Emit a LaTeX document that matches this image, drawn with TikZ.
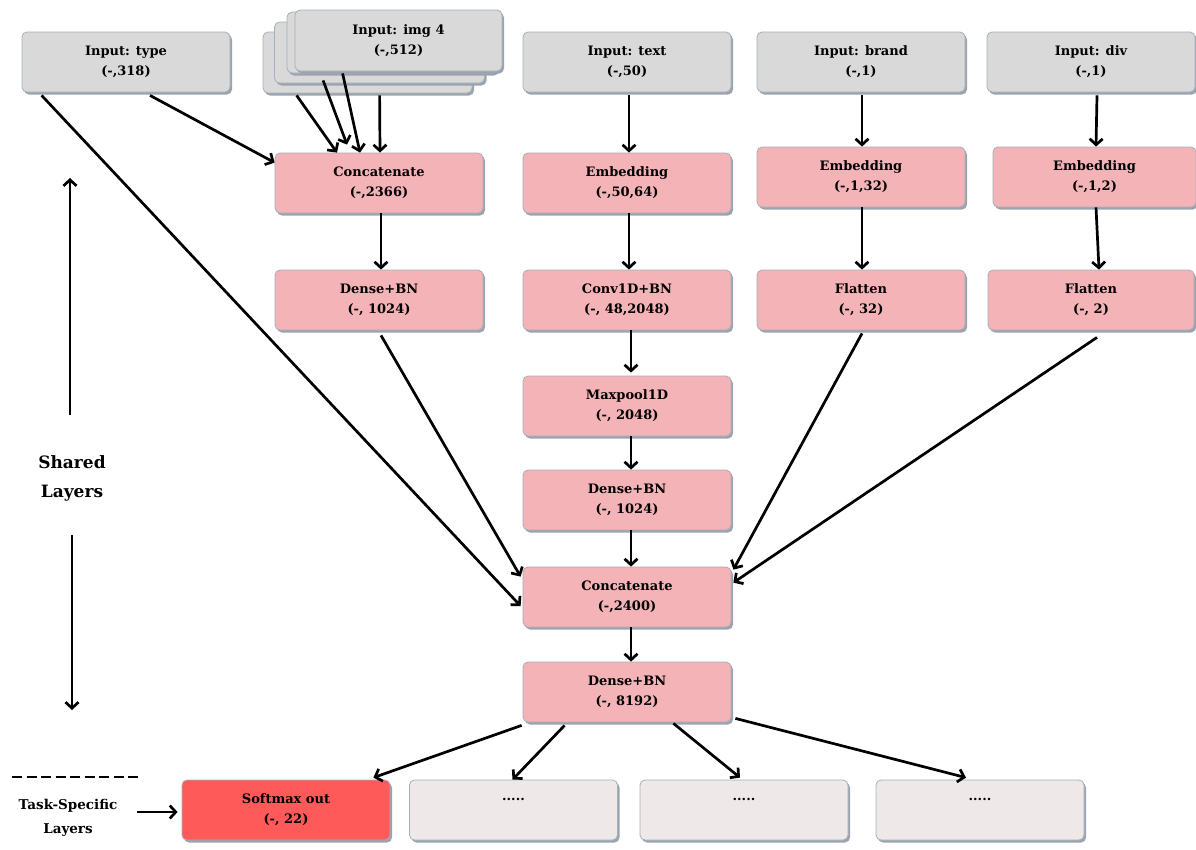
\documentclass[tikz,border=0pt]{standalone}
\usepackage{fontspec}
\setmainfont{DejaVu Serif}
\usetikzlibrary{arrows.meta,shadows}
\definecolor{ingray}{HTML}{D9D9D9}
\definecolor{boxedge}{HTML}{A7AFB8}
\definecolor{shadowc}{HTML}{9BA4AE}
\definecolor{pinkc}{HTML}{F4B3B6}
\definecolor{redc}{HTML}{FF5A5A}
\definecolor{dotc}{HTML}{EFE8E8}
\begin{document}
\begin{tikzpicture}[x=1pt,y=-1pt,
  box/.style={draw=boxedge, line width=0.8pt, rounded corners=5pt,
    minimum width=208pt, minimum height=60pt, inner sep=0pt, align=center,
    font=\bfseries\fontsize{13}{20}\selectfont,
    drop shadow={shadow xshift=2pt, shadow yshift=-2.5pt, fill=shadowc, opacity=1}},
  inbox/.style={box, fill=ingray},
  lay/.style={box, fill=pinkc},
  outbox/.style={box, fill=redc},
  dotbox/.style={box, fill=dotc},
  arr/.style={line width=2.7pt, -{Straight Barb[length=6pt,width=13pt]}},
  side/.style={font=\bfseries\fontsize{17}{29}\selectfont, align=center},
  sidesmall/.style={font=\bfseries\fontsize{13.5}{24}\selectfont, align=center}
]
\useasboundingbox (0,0) rectangle (1196,849);

% inputs
\node[inbox] (type) at (126,62) {Input: type\\(-,318)};
\node[inbox, minimum width=209pt, minimum height=61pt] (img1) at (367.5,62.5) {};
\node[inbox, minimum width=210pt, minimum height=61pt] (img2) at (379.5,52.5) {};
\node[inbox, minimum width=210pt, minimum height=61pt] (img3) at (392,42.5) {};
\node[inbox, minimum width=207pt, minimum height=61pt] (img4) at (398.5,40.5) {Input: img 4\\(-,512)};
\node[inbox] (text) at (627,62) {Input: text\\(-,50)};
\node[inbox] (brand) at (861,62) {Input: brand\\(-,1)};
\node[inbox] (div) at (1091,62) {Input: div\\(-,1)};

% layers
\node[lay] (cat1) at (379,183) {Concatenate\\(-,2366)};
\node[lay] (dense1) at (379,300) {Dense+BN\\(-, 1024)};
\node[lay] (embt) at (627,183) {Embedding\\(-,50,64)};
\node[lay] (conv) at (627,300) {Conv1D+BN\\(-, 48,2048)};
\node[lay] (pool) at (627,406) {Maxpool1D\\(-, 2048)};
\node[lay] (denset) at (627,500) {Dense+BN\\(-, 1024)};
\node[lay] (cat2) at (627,597) {Concatenate\\(-,2400)};
\node[lay] (dense2) at (627,692) {Dense+BN\\(-, 8192)};
\node[lay] (embb) at (861,177) {Embedding\\(-,1,32)};
\node[lay] (flatb) at (861,300) {Flatten\\(-, 32)};
\node[lay, minimum width=203pt] (embd) at (1094.5,177) {Embedding\\(-,1,2)};
\node[lay, minimum width=206pt] (flatd) at (1091,300) {Flatten\\(-, 2)};

% outputs
\node[outbox] (soft) at (286,810) {Softmax out\\(-, 22)};
\node[dotbox] (o2) at (513.5,810) {.....\\\phantom{(}};
\node[dotbox] (o3) at (744,810) {.....\\\phantom{(}};
\node[dotbox] (o4) at (980,810) {.....\\\phantom{(}};

% arrows: image stack
\draw[arr] ([xshift=34pt,yshift=-2pt]img1.south west) -- ([xshift=-42pt]cat1.north);
\draw[arr] ([xshift=49pt,yshift=3pt]img2.south west) -- ([xshift=-32pt,yshift=8pt]cat1.north);
\draw[arr] ([xshift=56pt,yshift=0pt]img3.south west) -- ([xshift=-19pt]cat1.north);
\draw[arr] ([xshift=117pt,yshift=-2pt]img1.south west) -- ([xshift=1pt]cat1.north);

% type
\draw[arr] ([xshift=24pt,yshift=-3pt]type.south) -- ([yshift=-10pt]cat1.north west);
\draw[arr] ([xshift=20pt,yshift=-3pt]type.south west) -- ([xshift=-2pt,yshift=-9pt]cat2.west);

% verticals
\draw[arr] ([xshift=2pt]cat1.south) -- ([xshift=2pt]dense1.north);
\draw[arr] ([xshift=2pt,yshift=-3pt]text.south) -- ([xshift=2pt]embt.north);
\draw[arr] ([xshift=2pt]embt.south) -- ([xshift=2pt]conv.north);
\draw[arr] ([xshift=4pt]conv.south) -- ([xshift=4pt,yshift=3pt]pool.north);
\draw[arr] ([xshift=4pt]pool.south) -- ([xshift=4pt]denset.north);
\draw[arr] ([xshift=4pt]denset.south) -- ([xshift=4pt]cat2.north);
\draw[arr] ([xshift=4pt]cat2.south) -- ([xshift=4pt]dense2.north);
\draw[arr] ([xshift=1pt,yshift=-3pt]brand.south) -- ([xshift=1pt]embb.north);
\draw[arr] ([xshift=1pt]embb.south) -- ([xshift=1pt]flatb.north);
\draw[arr] ([xshift=6pt,yshift=-3pt]div.south) -- ([xshift=1.5pt]embd.north);
\draw[arr] ([xshift=1.5pt]embd.south) -- ([xshift=8pt]flatd.north);

% into concat2
\draw[arr] ([xshift=2pt,yshift=-5pt]dense1.south) -- ([xshift=-2pt,yshift=-10pt]cat2.north west);
\draw[arr] ([xshift=1pt,yshift=-3pt]flatb.south) -- ([xshift=2pt,yshift=-3pt]cat2.north east);
\draw[arr] ([xshift=6pt,yshift=-7pt]flatd.south) -- ([xshift=2pt,yshift=-16pt]cat2.north east);

% outputs
\draw[arr] ([xshift=-1pt,yshift=-3pt]dense2.south west) -- ([xshift=-17pt,yshift=2pt]soft.north east);
\draw[arr] ([xshift=42pt,yshift=-3pt]dense2.south west) -- ([xshift=-1pt,yshift=0pt]o2.north);
\draw[arr] ([xshift=-58pt,yshift=-1pt]dense2.south east) -- ([xshift=-4pt,yshift=2pt]o3.north);
\draw[arr] ([xshift=4pt,yshift=4pt]dense2.south east) -- ([xshift=-14pt,yshift=2pt]o4.north);

% side labels
\node[side] (shared) at (72,478) {Shared\\Layers};
\coordinate (upA) at (70,415);
\coordinate (upB) at (70,178);
\coordinate (dnA) at (72,535);
\coordinate (dnB) at (72,710);
\draw[arr] (upA) -- (upB);
\draw[arr] (dnA) -- (dnB);
\coordinate (dashA) at (12,777);
\coordinate (dashB) at (138,777);
\draw[line width=2.8pt, dash pattern=on 10pt off 4.5pt] (dashA) -- (dashB);
\node[sidesmall] (task) at (68,818) {Task-Specific\\Layers};
\coordinate (taskA) at (137,812);
\draw[arr] (taskA) -- ([xshift=-4pt]soft.west |- taskA);
\end{tikzpicture}
\end{document}
